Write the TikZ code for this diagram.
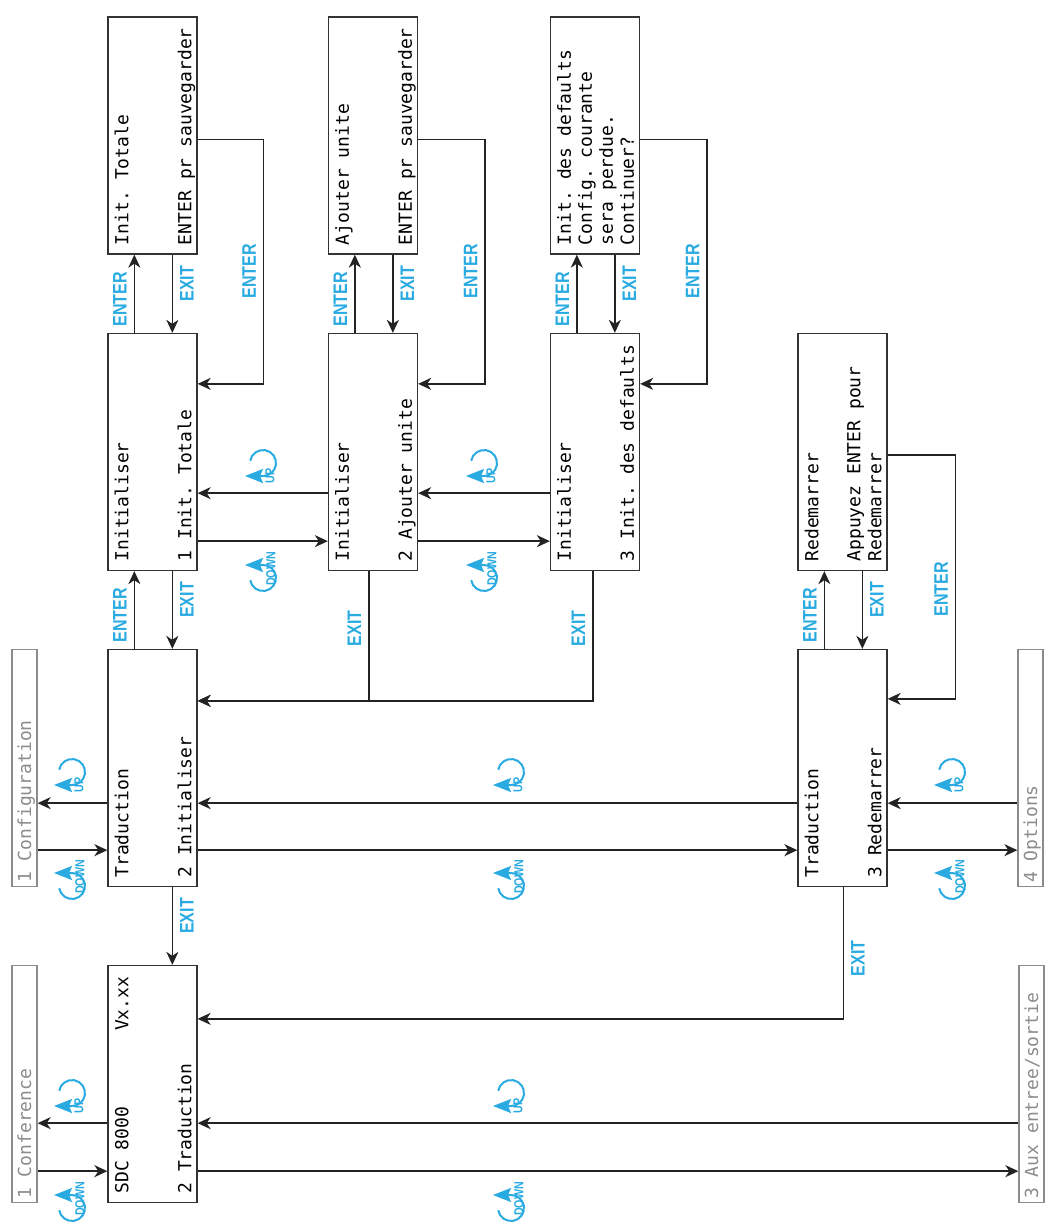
\documentclass[tikz,border=0pt]{standalone}
\usepackage{fontspec}
\usetikzlibrary{arrows.meta}
\newfontfamily\lcdfont{DejaVu Sans Mono}
\newfontfamily\keyfont[FakeStretch=0.82]{Liberation Sans}
\definecolor{keyblue}{RGB}{41,171,226}
\definecolor{linegray}{RGB}{35,35,35}
\definecolor{menugray}{RGB}{140,140,140}
\begin{document}
\begin{tikzpicture}[x=0.5pt, y=-0.5pt,
  screen/.style={draw=black!80, line width=0.65pt, minimum width=44.5pt, minimum height=118.5pt, inner sep=0pt},
  menu/.style={draw=menugray, line width=0.65pt, minimum width=12.5pt, minimum height=118.5pt, inner sep=0pt},
  lcd/.style={rotate=90, anchor=north, inner sep=0pt, text width=109.5pt, align=left,
    font=\lcdfont\fontsize{9}{10.5}\selectfont\frenchspacing,
    execute at begin node={\spaceskip=\fontdimen2\font\xspaceskip=\fontdimen2\font\strut},
    execute at end node=\strut},
  menutext/.style={rotate=90, anchor=base west, inner sep=0pt, text=menugray, font=\lcdfont\fontsize{9}{10}\selectfont},
  key/.style={rotate=90, inner sep=3.5pt, text=keyblue, font=\keyfont\bfseries\fontsize{9.8}{10}\selectfont},
  link/.style={draw=linegray, line width=0.75pt, -{Stealth[length=6.5pt,width=6pt,inset=2pt]}},
  keyline/.style={draw=keyblue, line width=1pt, -{Stealth[length=9pt,width=7pt,inset=1.5pt]}},
  keytag/.style={rotate=90, inner sep=0pt, text=keyblue, font=\keyfont\bfseries\fontsize{6.5}{6.5}\selectfont},
  upkey/.pic={
    \draw[keyline] (-170:13) arc[start angle=-170, end angle=90, radius=13] -- ++(-18,0);
    \node[keytag] (tag) at (7,13) {UP};
  },
  downkey/.pic={
    \draw[keyline] (170:13) arc[start angle=170, end angle=-90, radius=13] -- ++(-18,0);
    \node[keytag] (tag) at (8,-9) {DOWN};
  }]
\useasboundingbox (0,0) rectangle (1048,1225);

\node[screen] (tot) at (152.5,135.5){};
\node[lcd] (totx) at ([xshift=2.9pt]tot.west) {Init. Totale\\~\\~\\ENTER pr sauvegarder};
\node[screen] (aju) at (373,135.5){};
\node[lcd] (ajux) at ([xshift=2.9pt]aju.west) {Ajouter unite\\~\\~\\ENTER pr sauvegarder};
\node[screen] (dft) at (595,135.5){};
\node[lcd] (dftx) at ([xshift=2.9pt]dft.west) {Init. des defaults\\Config. courante\\sera perdue.\\Continuer?};

\node[screen] (ini1) at (152.5,452){};
\node[lcd] (ini1x) at ([xshift=2.9pt]ini1.west) {Initialiser\\~\\~\\1 Init. Totale};
\node[screen] (ini2) at (373,452){};
\node[lcd] (ini2x) at ([xshift=2.9pt]ini2.west) {Initialiser\\~\\~\\2 Ajouter unite};
\node[screen] (ini3) at (595,452){};
\node[lcd] (ini3x) at ([xshift=2.9pt]ini3.west) {Initialiser\\~\\~\\3 Init. des defaults};
\node[screen] (rst) at (842.5,452){};
\node[lcd] (rstx) at ([xshift=2.9pt]rst.west) {Redemarrer\\~\\Appuyez ENTER pour\\Redemarrer};

\node[screen] (tr1) at (152.5,768){};
\node[lcd] (tr1x) at ([xshift=2.9pt]tr1.west) {Traduction\\~\\~\\2 Initialiser};
\node[screen] (tr2) at (842.5,768){};
\node[lcd] (tr2x) at ([xshift=2.9pt]tr2.west) {Traduction\\~\\~\\3 Redemarrer};
\node[menu] (cfg) at (24.5,768){};
\node[menutext] (cfgx) at ([xshift=3.3pt,yshift=2pt]cfg.south) {1 Configuration};
\node[menu] (opt) at (1030.5,768){};
\node[menutext] (optx) at ([xshift=3.3pt,yshift=2pt]opt.south) {4 Options};

\node[screen] (sdc) at (152.5,1084){};
\node[lcd] (sdcx) at ([xshift=2.9pt]sdc.west) {SDC~8000~~~~~~~Vx.xx\\~\\~\\2 Traduction};
\node[menu] (conf) at (24.5,1084){};
\node[menutext] (confx) at ([xshift=3.3pt,yshift=2pt]conf.south) {1 Conference};
\node[menu] (aux) at (1031.5,1084){};
\node[menutext] (auxx) at ([xshift=3.3pt,yshift=2pt]aux.south) {3 Aux entree/sortie};

\draw[link] ([xshift=13.5pt]ini1.north west) -- node[key, above, pos=.43]{ENTER} ([xshift=13.5pt]tot.south west);
\draw[link] ([xshift=32.5pt]tot.south west) -- node[key, below, pos=.37]{EXIT} ([xshift=32.5pt]ini1.north west);
\draw[link] ([yshift=-2pt]tot.east) -- ++(33pt,0) |- node[key, above, pos=.27]{ENTER} ([yshift=-25.5pt]ini1.north east);
\draw[link] ([xshift=13.5pt]ini2.north west) -- node[key, above, pos=.43]{ENTER} ([xshift=13.5pt]aju.south west);
\draw[link] ([xshift=32.5pt]aju.south west) -- node[key, below, pos=.37]{EXIT} ([xshift=32.5pt]ini2.north west);
\draw[link] ([yshift=-2pt]aju.east) -- ++(33.5pt,0) |- node[key, above, pos=.27]{ENTER} ([yshift=-25.5pt]ini2.north east);
\draw[link] ([xshift=13.5pt]ini3.north west) -- node[key, above, pos=.43]{ENTER} ([xshift=13.5pt]dft.south west);
\draw[link] ([xshift=32.5pt]dft.south west) -- node[key, below, pos=.37]{EXIT} ([xshift=32.5pt]ini3.north west);
\draw[link] ([yshift=-2pt]dft.east) -- ++(33.5pt,0) |- node[key, above, pos=.27]{ENTER} ([yshift=-25.5pt]ini3.north east);

\draw[link] ([yshift=39pt]ini2.south west) -- ([yshift=39pt]ini1.south east);
\draw[link] ([yshift=15pt]ini1.south east) -- ([yshift=15pt]ini2.south west);
\draw[link] ([yshift=39pt]ini3.south west) -- ([yshift=39pt]ini2.south east);
\draw[link] ([yshift=15pt]ini2.south east) -- ([yshift=15pt]ini3.south west);
\pic at (263,463) {upkey};
\pic at (263,578) {downkey};
\pic at (484,463) {upkey};
\pic at (484,578) {downkey};

\draw[link] ([xshift=13.5pt]tr1.north west) -- node[key, above, pos=.43]{ENTER} ([xshift=13.5pt]ini1.south west);
\draw[link] ([xshift=32.5pt]ini1.south west) -- node[key, below, pos=.37]{EXIT} ([xshift=32.5pt]tr1.north west);
\draw[link] ([xshift=20.5pt]ini2.south west) |- node[key, above, pos=.22]{EXIT} ([yshift=-26pt]tr1.north east);
\draw[link] ([xshift=21.5pt]ini3.south west) |- node[key, above, pos=.22]{EXIT} ([yshift=-26pt]tr1.north east);
\draw[link] ([xshift=13.5pt]tr2.north west) -- node[key, above, pos=.43]{ENTER} ([xshift=13.5pt]rst.south west);
\draw[link] ([xshift=32.5pt]rst.south west) -- node[key, below, pos=.37]{EXIT} ([xshift=32.5pt]tr2.north west);
\draw[link] ([yshift=-1.5pt]rst.east) -- ++(34pt,0) |- node[key, above, pos=.275]{ENTER} ([yshift=-25pt]tr2.north east);

\draw[link] ([yshift=42pt]tr1.south west) -- ([yshift=42pt]cfg.south east);
\draw[link] ([yshift=18.5pt]cfg.south east) -- ([yshift=18.5pt]tr1.south west);
\draw[link] ([yshift=42pt]tr2.south west) -- ([yshift=42pt]tr1.south east);
\draw[link] ([yshift=18.5pt]tr1.south east) -- ([yshift=18.5pt]tr2.south west);
\draw[link] ([yshift=42pt]opt.south west) -- ([yshift=42pt]tr2.south east);
\draw[link] ([yshift=18.5pt]tr2.south east) -- ([yshift=18.5pt]opt.south west);
\pic at (72,772) {upkey};
\pic at (72,886) {downkey};
\pic at (511,772) {upkey};
\pic at (511,886) {downkey};
\pic at (952,772) {upkey};
\pic at (952,886) {downkey};

\draw[link] ([xshift=32.5pt]tr1.south west) -- node[key, below, pos=.37]{EXIT} ([xshift=32.5pt]sdc.north west);
\draw[link] ([xshift=23pt]tr2.south west) |- node[key, below, pos=.27]{EXIT} ([yshift=-27pt]sdc.north east);

\draw[link] ([yshift=40pt]sdc.south west) -- ([yshift=40pt]conf.south east);
\draw[link] ([yshift=16pt]conf.south east) -- ([yshift=16pt]sdc.south west);
\draw[link] ([yshift=40pt]aux.south west) -- ([yshift=40pt]sdc.south east);
\draw[link] ([yshift=16pt]sdc.south east) -- ([yshift=16pt]aux.south west);
\pic at (72,1093) {upkey};
\pic at (72,1208) {downkey};
\pic at (511,1093) {upkey};
\pic at (511,1208) {downkey};

\end{tikzpicture}
\end{document}
